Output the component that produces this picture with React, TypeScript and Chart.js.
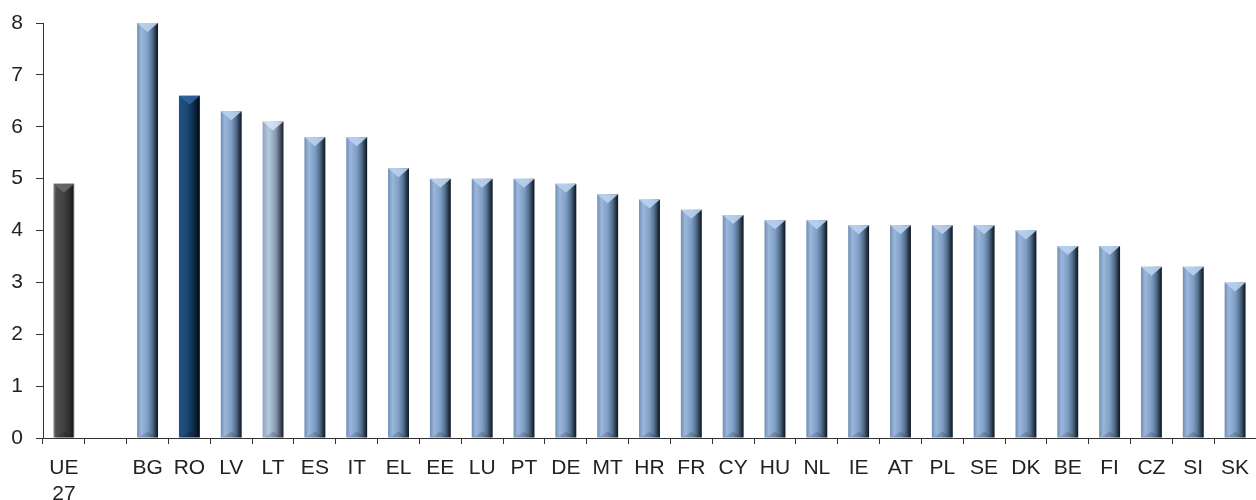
import React, { useEffect, useRef } from "react";
import { Chart, registerables } from "chart.js";

Chart.register(...registerables);

const categories: (string | string[])[] = [
  ["UE", "27"], "", "BG", "RO", "LV", "LT", "ES", "IT", "EL", "EE", "LU", "PT", "DE", "MT",
  "HR", "FR", "CY", "HU", "NL", "IE", "AT", "PL", "SE", "DK", "BE", "FI", "CZ", "SI", "SK",
];

const values: (number | null)[] = [
  4.9, null, 8.0, 6.6, 6.3, 6.1, 5.8, 5.8, 5.2, 5.0, 5.0, 5.0, 4.9, 4.7,
  4.6, 4.4, 4.3, 4.2, 4.2, 4.1, 4.1, 4.1, 4.1, 4.0, 3.7, 3.7, 3.3, 3.3, 3.0,
];

const yTicks = [0, 1, 2, 3, 4, 5, 6, 7, 8];

type Palette = { stops: [number, string][]; bevel: string };

function paletteFor(label: string | string[]): Palette {
  const key = Array.isArray(label) ? label.join(" ") : label;
  if (key === "UE 27")
    return {
      stops: [[0, "#8a8a8a"], [0.12, "#4d4d4d"], [0.45, "#444444"], [0.8, "#2c2c2c"], [0.92, "#1a1a1a"], [1, "#9a9a9a"]],
      bevel: "rgba(110,110,110,0.8)",
    };
  if (key === "RO")
    return {
      stops: [[0, "#215284"], [0.35, "#1b4978"], [0.7, "#0e2b4a"], [1, "#030a12"]],
      bevel: "rgba(50,100,160,0.85)",
    };
  if (key === "LT")
    return {
      stops: [[0, "#8ea5be"], [0.3, "#b4cadf"], [0.65, "#8295aa"], [0.88, "#3a4654"], [1, "#1a2129"]],
      bevel: "rgba(215,230,245,0.85)",
    };
  return {
    stops: [[0, "#6f8db3"], [0.2, "#9ab7db"], [0.5, "#809fc6"], [0.72, "#56728f"], [0.88, "#2a3b4f"], [1, "#0c141d"]],
    bevel: "rgba(185,210,238,0.9)",
  };
}

function barGradient(c: any) {
  const chart = c.chart;
  const xs = chart.scales?.x;
  const i = c.dataIndex;
  if (!xs || !chart.chartArea || i == null) return "#87a7cd";
  const cx = xs.getPixelForValue(i);
  const w = (xs.width / categories.length) * 0.5;
  const pal = paletteFor(categories[i]);
  const g = chart.ctx.createLinearGradient(cx - w / 2, 0, cx + w / 2, 0);
  pal.stops.forEach(([o, col]) => g.addColorStop(o, col));
  return g;
}

const bevelPlugin = {
  id: "bevel",
  afterDatasetsDraw(chart: any) {
    const meta = chart.getDatasetMeta(0);
    const ctx = chart.ctx as CanvasRenderingContext2D;
    ctx.save();
    meta.data.forEach((el: any, i: number) => {
      if (values[i] == null) return;
      const pal = paletteFor(categories[i]);
      const l = el.x - el.width / 2;
      const r = el.x + el.width / 2;
      const t = el.y;
      const d = Math.min(9, (el.base - el.y) / 2);
      ctx.fillStyle = pal.bevel;
      ctx.beginPath();
      ctx.moveTo(l, t);
      ctx.lineTo(r, t);
      ctx.lineTo(el.x, t + d);
      ctx.closePath();
      ctx.fill();
      ctx.fillStyle = "rgba(0,0,0,0.15)";
      ctx.beginPath();
      ctx.moveTo(l + 2, el.base);
      ctx.lineTo(r - 2, el.base);
      ctx.lineTo(el.x, el.base - 6);
      ctx.closePath();
      ctx.fill();
    });
    ctx.restore();
  },
};

const FONT = "'Liberation Sans', Arial, sans-serif";

export default function App() {
  const ref = useRef<HTMLCanvasElement>(null);

  useEffect(() => {
    document.body.style.margin = "0";
    const chart = new Chart(ref.current!, {
      type: "bar",
      data: {
        labels: categories,
        datasets: [
          {
            data: values,
            backgroundColor: barGradient,
            borderWidth: 0,
            barPercentage: 0.5,
            categoryPercentage: 1,
          },
        ],
      },
      options: {
        animation: false,
        responsive: false,
        maintainAspectRatio: false,
        layout: { padding: { top: 23, left: 0, right: -13, bottom: 0 } },
        plugins: { legend: { display: false }, tooltip: { enabled: false } },
        scales: {
          x: {
            offset: true,
            afterFit: (axis: any) => {
              axis.height = 62;
              axis.paddingLeft = 0;
              axis.paddingRight = 0;
            },
            grid: {
              offset: true,
              drawOnChartArea: false,
              drawTicks: true,
              tickLength: 6,
              color: "#333",
            },
            border: { color: "#333", width: 1 },
            ticks: {
              color: "#222",
              font: { family: FONT, size: 21 },
              padding: 12,
              maxRotation: 0,
              autoSkip: false,
            },
          },
          y: {
            min: 0,
            max: 8,
            afterBuildTicks: (axis: any) => {
              axis.ticks = yTicks.map((v) => ({ value: v }));
            },
            afterFit: (axis: any) => {
              axis.width = 43;
              axis.paddingTop = 0;
              axis.paddingBottom = 0;
            },
            grid: { drawOnChartArea: false, tickLength: 7, color: "#333" },
            border: { color: "#333", width: 1 },
            ticks: {
              color: "#222",
              font: { family: FONT, size: 21 },
              padding: 13,
            },
          },
        },
      },
      plugins: [bevelPlugin],
    });
    return () => chart.destroy();
  }, []);

  return (
    <div style={{ width: 1256, height: 500 }}>
      <canvas ref={ref} width={1256} height={500} />
    </div>
  );
}
